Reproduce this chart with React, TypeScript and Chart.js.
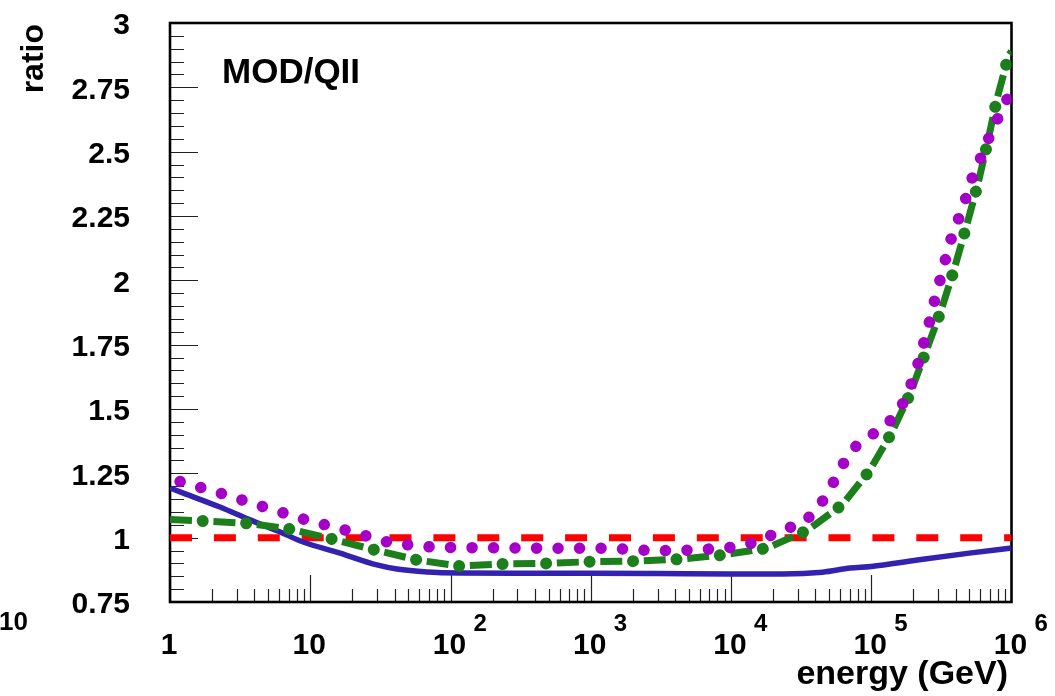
import React, { useEffect, useRef } from "react";
import { Chart, registerables } from "chart.js";

Chart.register(...registerables);

// ---- data (energy in GeV, ratio) ----
const redE = [1, 1e6];
const redV = [1, 1];

const blueE = [1, 1.18, 2.27, 3.72, 6.1, 8.9, 16.3, 29.9, 41.6, 68, 117, 300, 1000, 3000, 10000, 23400, 45000, 70800, 100000, 213000, 500000, 1000000];
const blueV = [1.193, 1.178, 1.119, 1.069, 1.022, 0.983, 0.94, 0.894, 0.878, 0.867, 0.863, 0.862, 0.862, 0.861, 0.859, 0.859, 0.866, 0.882, 0.888, 0.913, 0.94, 0.96];

const greenE = [1, 1.71, 3.56, 7.18, 14.5, 29.0, 58.1, 114, 245, 491, 1018, 2133, 4223, 8840, 17980, 34960, 62100, 96800, 140500, 189800, 246800, 313300, 391000, 474600, 576900, 677500, 788000, 953000, 1000000];
const greenV = [1.071, 1.065, 1.056, 1.033, 0.994, 0.952, 0.913, 0.89, 0.898, 0.9, 0.907, 0.909, 0.916, 0.933, 0.959, 1.028, 1.128, 1.259, 1.41, 1.561, 1.727, 1.88, 2.045, 2.206, 2.375, 2.54, 2.705, 2.873, 2.89];

const purpleE = [1.18, 2.38, 4.76, 9.33, 18.9, 38.3, 76.4, 157, 457, 1374, 2786, 5710, 11640, 16600, 22800, 31700, 41500, 49700, 59400, 69700, 91400, 123800, 159300, 184600, 209400, 230000, 253700, 275500, 302000, 331700, 362100, 410500, 464300, 514200, 592000, 679600, 788000, 929000, 989000];
const purpleV = [1.218, 1.17, 1.118, 1.069, 1.026, 0.978, 0.963, 0.961, 0.959, 0.959, 0.949, 0.952, 0.965, 0.991, 1.03, 1.053, 1.11, 1.183, 1.257, 1.334, 1.386, 1.429, 1.495, 1.57, 1.652, 1.732, 1.814, 1.898, 1.98, 2.064, 2.146, 2.225, 2.306, 2.387, 2.465, 2.546, 2.623, 2.704, 2.728];

// ---- axis labels ----
const yTickValues = [0.75, 1, 1.25, 1.5, 1.75, 2, 2.25, 2.5, 2.75, 3];
const yTickLabels = ["0.75", "1", "1.25", "1.5", "1.75", "2", "2.25", "2.5", "2.75", "3"];
const xTickValues = [1, 10, 100, 1000, 10000, 100000, 1000000];
const xTickBase = ["1", "10", "10", "10", "10", "10", "10"];
const xTickExp = ["", "", "2", "3", "4", "5", "6"];

const pts = (xs: number[], ys: number[]) => xs.map((x, i) => ({ x, y: ys[i] }));

const FONT = "'Liberation Sans', Arial, Helvetica, sans-serif";

const rootPlugin = {
  id: "rootFrame",
  beforeDatasetsDraw(chart: any) {
    const { ctx, chartArea: a } = chart;
    const x = chart.scales.x;
    const y = chart.scales.y;
    ctx.save();
    // tick marks (inside frame)
    ctx.strokeStyle = "#222";
    ctx.lineWidth = 1.2;
    ctx.beginPath();
    for (let i = 0; i <= 45; i++) {
      const v = 0.75 + i * 0.05;
      const py = Math.round(y.getPixelForValue(v)) + 0.5;
      const len = i % 5 === 0 ? 28 : 14;
      ctx.moveTo(a.left, py);
      ctx.lineTo(a.left + len, py);
    }
    for (let d = 0; d < 6; d++) {
      for (let m = 1; m <= 9; m++) {
        const v = m * Math.pow(10, d);
        const px = Math.round(x.getPixelForValue(v)) + 0.5;
        const len = m === 1 ? 27 : 13;
        ctx.moveTo(px, a.bottom);
        ctx.lineTo(px, a.bottom - len);
      }
    }
    ctx.stroke();
    // frame
    ctx.strokeStyle = "#000";
    ctx.lineWidth = 2.6;
    ctx.strokeRect(a.left, a.top, a.right - a.left, a.bottom - a.top);

    // y labels
    ctx.fillStyle = "#000";
    ctx.font = `bold 30px ${FONT}`;
    ctx.textAlign = "right";
    ctx.textBaseline = "middle";
    yTickValues.forEach((v, i) => {
      ctx.fillText(yTickLabels[i], 130, y.getPixelForValue(v) + 3);
    });
    // x labels
    xTickValues.forEach((v, i) => {
      const px = x.getPixelForValue(v);
      ctx.font = `bold 30px ${FONT}`;
      ctx.textAlign = "center";
      ctx.textBaseline = "alphabetic";
      ctx.fillText(xTickBase[i], px - 1, 654);
      if (xTickExp[i]) {
        ctx.font = `bold 24px ${FONT}`;
        ctx.textAlign = "left";
        ctx.fillText(xTickExp[i], px + 23, 631);
      }
    });
    // stray label at left
    ctx.font = `bold 26px ${FONT}`;
    ctx.textAlign = "left";
    ctx.fillText("10", -1, 630);

    // axis titles
    ctx.font = `bold 34px ${FONT}`;
    ctx.textAlign = "right";
    ctx.fillText("energy (GeV)", 1008, 684);

    ctx.save();
    ctx.translate(43, 24);
    ctx.rotate(-Math.PI / 2);
    ctx.font = `bold 32px ${FONT}`;
    ctx.textAlign = "right";
    ctx.textBaseline = "alphabetic";
    ctx.fillText("ratio", 0, 0);
    ctx.restore();

    // panel label
    ctx.font = `bold 35px ${FONT}`;
    ctx.textAlign = "left";
    ctx.fillText("MOD/QII", 222, 83);
    ctx.restore();
  },
};

export default function App() {
  const ref = useRef<HTMLCanvasElement | null>(null);
  useEffect(() => {
    const canvas = ref.current;
    if (!canvas) return;
    const chart = new Chart(canvas, {
      type: "line",
      data: {
        datasets: [
          {
            label: "purple",
            data: pts(purpleE, purpleV),
            borderColor: "#a400c8",
            borderWidth: 11.5,
            borderCapStyle: "round",
            borderDash: [0.01, 21.49],
            pointRadius: 0,
            tension: 0,
            order: 1,
          },
          {
            label: "green dots",
            data: pts(greenE, greenV),
            borderColor: "#1c7f1c",
            borderWidth: 12,
            borderCapStyle: "round",
            borderDash: [0.01, 43.49],
            borderDashOffset: 10.75,
            pointRadius: 0,
            tension: 0,
            order: 2,
          },
          {
            label: "green",
            data: pts(greenE, greenV),
            borderColor: "#1c7f1c",
            borderWidth: 7,
            borderCapStyle: "butt",
            borderDash: [22, 21.5],
            pointRadius: 0,
            tension: 0,
            order: 3,
          },
          {
            label: "blue",
            data: pts(blueE, blueV),
            borderColor: "#3322b0",
            borderWidth: 5.5,
            pointRadius: 0,
            cubicInterpolationMode: "monotone",
            order: 4,
          },
          {
            label: "red",
            data: pts(redE, redV),
            borderColor: "#ff0000",
            borderWidth: 7,
            borderCapStyle: "butt",
            borderDash: [22, 21.9],
            pointRadius: 0,
            tension: 0,
            order: 5,
          },
        ],
      },
      options: {
        animation: false,
        responsive: false,
        maintainAspectRatio: false,
        devicePixelRatio: 1,
        layout: { padding: { left: 170, top: 23, right: 43.5, bottom: 94 } },
        plugins: { legend: { display: false }, tooltip: { enabled: false }, title: { display: false } },
        scales: {
          x: { type: "logarithmic", min: 1, max: 1e6, display: false },
          y: { type: "linear", min: 0.75, max: 3, display: false },
        },
      } as any,
      plugins: [rootPlugin],
    });
    return () => chart.destroy();
  }, []);
  return (
    <div style={{ position: "fixed", left: 0, top: 0, width: 1055, height: 696, background: "#fff" }}>
      <canvas ref={ref} width={1055} height={696} style={{ width: 1055, height: 696, display: "block" }} />
    </div>
  );
}
